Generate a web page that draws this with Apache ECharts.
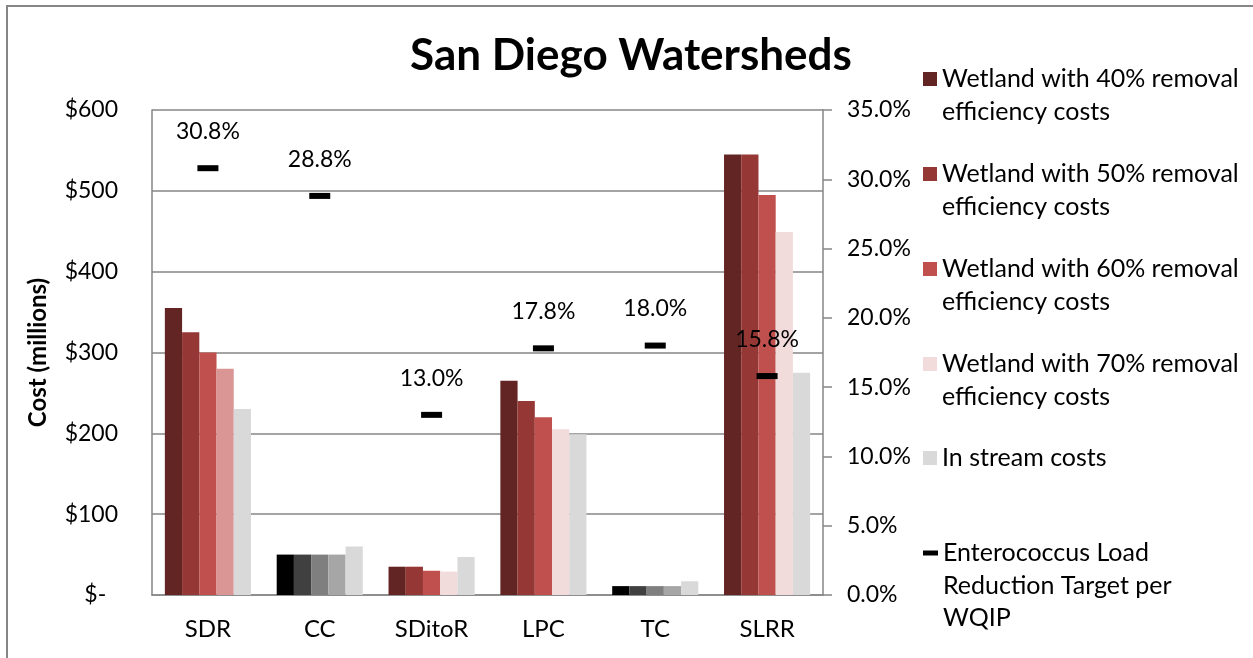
<!DOCTYPE html>
<html>
<head>
<meta charset="utf-8">
<title>San Diego Watersheds</title>
<script src="https://cdn.jsdelivr.net/npm/echarts@6/dist/echarts.min.js"></script>
<style>
  html, body { margin: 0; padding: 0; background: #fff; }
  #chart { width: 1253px; height: 658px; }
</style>
</head>
<body>
<div id="chart"></div>
<script>
// Watershed categories
const categories = ['SDR', 'CC', 'SDitoR', 'LPC', 'TC', 'SLRR'];

// Costs in millions of dollars
const wetland40 = [355, 50, 35, 265, 11, 545];
const wetland50 = [325, 50, 35, 240, 11, 545];
const wetland60 = [300, 50, 30, 220, 11, 495];
const wetland70 = [280, 50, 29, 205, 11, 449];
const inStream  = [230, 60, 47, 199, 17, 275];

// Enterococcus load reduction target per WQIP (%)
const loadTarget = [30.8, 28.8, 13.0, 17.8, 18.0, 15.8];

// Axis ticks
const costTicks = { min: 0, max: 600, interval: 100 };
const pctTicks = { min: 0, max: 35, interval: 5 };

const seriesNames = [
  'Wetland with 40% removal efficiency costs',
  'Wetland with 50% removal efficiency costs',
  'Wetland with 60% removal efficiency costs',
  'Wetland with 70% removal efficiency costs',
  'In stream costs'
];
const targetName = 'Enterococcus Load Reduction Target per WQIP';

// Colours
const redPalette = ['#632523', '#953735', '#C0504D', '#F2DCDB', '#D9D9D9'];
const grayPalette = ['#000000', '#404040', '#7F7F7F', '#A6A6A6', '#D9D9D9'];
const grayCategories = ['CC', 'TC'];
const specialColor = { 'SDR|3': '#D99694' };

const FONT = 'Lato, "Noto Sans", sans-serif';
const GRID_COLOR = '#868686';

const valueSets = [wetland40, wetland50, wetland60, wetland70, inStream];

function barData(values, s) {
  return values.map((v, i) => {
    const cat = categories[i];
    let color = redPalette[s];
    if (grayCategories.includes(cat)) color = grayPalette[s];
    if (specialColor[cat + '|' + s]) color = specialColor[cat + '|' + s];
    return { value: v, itemStyle: { color } };
  });
}

const barSeries = valueSets.map((vals, s) => ({
  name: seriesNames[s],
  type: 'bar',
  yAxisIndex: 0,
  barGap: '0%',
  barCategoryGap: '23%',
  itemStyle: { color: redPalette[s] },
  data: barData(vals, s)
}));

const targetSeries = {
  name: targetName,
  type: 'scatter',
  yAxisIndex: 1,
  symbol: 'rect',
  symbolSize: [21, 6],
  itemStyle: { color: '#000', opacity: 1 },
  label: {
    show: true,
    position: 'top',
    distance: 22,
    fontFamily: FONT,
    fontSize: 23,
    color: '#000',
    formatter: p => p.value.toFixed(1) + '%'
  },
  z: 5,
  data: loadTarget
};

// Legend entries wrapped onto several lines; leading blank lines keep the
// first line level with the swatch (one legend block per entry)
const legendLines = [
  ['Wetland with 40% removal', 'efficiency costs'],
  ['Wetland with 50% removal', 'efficiency costs'],
  ['Wetland with 60% removal', 'efficiency costs'],
  ['Wetland with 70% removal', 'efficiency costs'],
  ['In stream costs'],
  ['Enterococcus Load', 'Reduction Target per', 'WQIP']
];
const legendNames = seriesNames.concat([targetName]);
const LINE_H = 32.5;
const legendIconCenters = [79, 174, 269, 364, 458, 553];

const legends = legendNames.map((name, i) => {
  const lines = legendLines[i];
  const isTarget = i === 5;
  const iw = isTarget ? 15 : 14;
  const ih = isTarget ? 5 : 14;
  const blanks = new Array(lines.length - 1).fill('');
  const allLines = blanks.concat(lines);
  const blockTop = Math.min(0, ih / 2 - (allLines.length * LINE_H) / 2);
  const top = legendIconCenters[i] - ih / 2 + blockTop - 5;
  return {
    data: [{ name: name, icon: 'rect' }],
    orient: 'vertical',
    left: 918,
    top: top,
    itemWidth: iw,
    itemHeight: ih,
    selectedMode: false,
    formatter: () => allLines.join('\n'),
    textStyle: {
      fontFamily: FONT,
      fontSize: 25,
      lineHeight: LINE_H,
      color: '#000'
    }
  };
});

const chart = echarts.init(document.getElementById('chart'), null, { renderer: 'canvas' });

chart.setOption({
  animation: false,
  backgroundColor: '#fff',
  title: {
    text: 'San Diego Watersheds',
    left: 626,
    textAlign: 'center',
    top: 29,
    textStyle: { fontFamily: FONT, fontSize: 44, fontWeight: 'bold', color: '#000' }
  },
  graphic: [{
    type: 'rect',
    silent: true,
    z: -1,
    shape: { x: 7, y: 6, width: 1300, height: 700 },
    style: { fill: 'none', stroke: '#868686', lineWidth: 2 }
  }],
  legend: legends,
  grid: { left: 152, right: 430, top: 110, bottom: 63, containLabel: false },
  xAxis: {
    type: 'category',
    data: categories,
    axisLine: { show: true, lineStyle: { color: GRID_COLOR, width: 1.5 } },
    axisTick: { show: false },
    axisLabel: { fontFamily: FONT, fontSize: 24, color: '#000', margin: 22 }
  },
  yAxis: [{
    type: 'value',
    min: costTicks.min,
    max: costTicks.max,
    interval: costTicks.interval,
    name: 'Cost (millions)',
    nameLocation: 'middle',
    nameRotate: 90,
    nameGap: 102,
    nameTextStyle: { fontFamily: FONT, fontSize: 24, fontWeight: 'bold', color: '#000' },
    axisLine: { show: true, lineStyle: { color: GRID_COLOR, width: 1.5 } },
    axisTick: { show: false },
    splitLine: { show: true, lineStyle: { color: GRID_COLOR, width: 1.5 } },
    axisLabel: {
      fontFamily: FONT, fontSize: 23, color: '#000', margin: 34,
      formatter: v => v === 0 ? '$-  ' : '$' + v
    }
  }, {
    type: 'value',
    min: pctTicks.min,
    max: pctTicks.max,
    interval: pctTicks.interval,
    position: 'right',
    axisLine: { show: true, lineStyle: { color: GRID_COLOR, width: 1.5 } },
    axisTick: { show: true, inside: false, length: 9, lineStyle: { color: GRID_COLOR, width: 1.5 } },
    splitLine: { show: false },
    axisLabel: {
      fontFamily: FONT, fontSize: 23, color: '#000', margin: 24,
      formatter: v => v.toFixed(1) + '%'
    }
  }],
  series: barSeries.concat([targetSeries])
});
</script>
</body>
</html>
